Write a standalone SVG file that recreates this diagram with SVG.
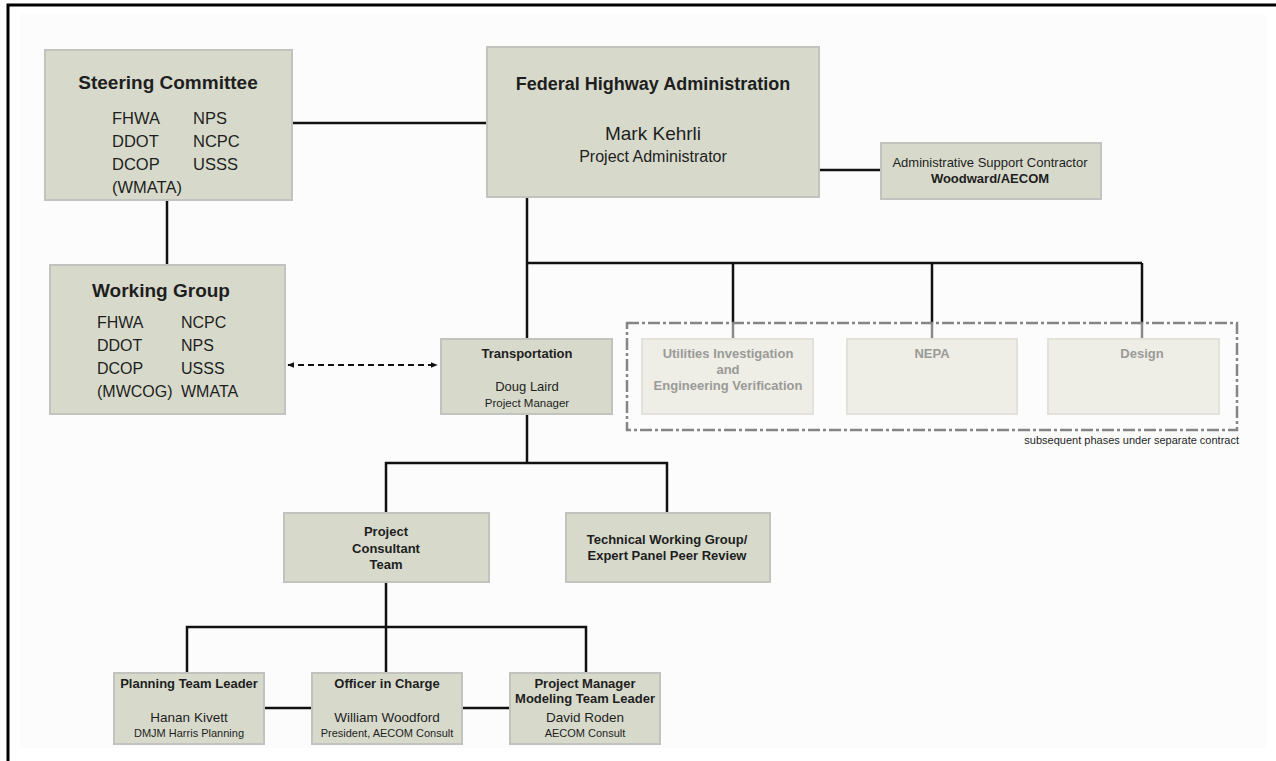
<svg xmlns="http://www.w3.org/2000/svg" width="1276" height="761" viewBox="0 0 1276 761">
<style>
text{font-family:"Liberation Sans",Arial,sans-serif;fill:#1e1e1e}
.box{fill:#d7dacb;stroke:#c2c2bf;stroke-width:2}
.fbox{fill:#eeeee7;stroke:#e2e2dc;stroke-width:2}
.b{font-weight:bold}
.c{text-anchor:middle}
.f{fill:#9a9a96;font-weight:bold;font-size:13px;text-anchor:middle}
.ln{stroke:#111;stroke-width:2.5;fill:none}
</style>
<defs>
<marker id="ah" viewBox="0 0 10 10" refX="9" refY="5" markerWidth="7" markerHeight="7" orient="auto-start-reverse" markerUnits="userSpaceOnUse">
<path d="M0,1 L10,5 L0,9 Z" fill="#111"/>
</marker>
</defs>
<rect x="0" y="0" width="1276" height="761" fill="#ffffff"/>
<rect x="20" y="14" width="1246" height="734" fill="#fcfcfc"/>
<path d="M8,4 V761 M6.5,5 H1276" stroke="#000" stroke-width="3" fill="none"/>

<g id="connectors">
<path class="ln" d="M292,123 H488"/>
<path class="ln" d="M819,170 H882"/>
<path class="ln" d="M167,200 V265" stroke-width="1.5"/>
<path class="ln" d="M527,197 V339 M527,263 H1142 M733,263 V323 M932,263 V323 M1142,263 V323"/>
<path d="M733,323 V339 M932,323 V339 M1142,323 V339" stroke="#8a8a8a" stroke-width="2.5" fill="none"/>
<path d="M288,365 H437" stroke="#111" stroke-width="2.2" stroke-dasharray="6,4" fill="none" marker-start="url(#ah)" marker-end="url(#ah)"/>
<path class="ln" d="M527,414 V463 M386,513 V463 H667 V513"/>
<path class="ln" d="M386,582 V673 M187,673 V627 H586 V673"/>
<path class="ln" d="M264,708 H312 M462,708 H510"/>
</g>

<g id="steering-committee">
<rect class="box" x="45" y="50" width="247" height="150"/>
<text class="b c" x="168" y="89" font-size="19">Steering Committee</text>
<g font-size="16.5">
<text x="112" y="124">FHWA</text><text x="193" y="124">NPS</text>
<text x="112" y="147">DDOT</text><text x="193" y="147">NCPC</text>
<text x="112" y="170">DCOP</text><text x="193" y="170">USSS</text>
<text x="112" y="193">(WMATA)</text>
</g>
</g>

<g id="fhwa">
<rect class="box" x="487" y="47" width="332" height="150"/>
<text class="b c" x="653" y="90" font-size="18">Federal Highway Administration</text>
<text class="c" x="653" y="140" font-size="19">Mark Kehrli</text>
<text class="c" x="653" y="162" font-size="16">Project Administrator</text>
</g>

<g id="admin-support">
<rect class="box" x="881" y="143" width="220" height="56"/>
<text class="c" x="990" y="167" font-size="13">Administrative Support Contractor</text>
<text class="b c" x="990" y="183" font-size="13">Woodward/AECOM</text>
</g>

<g id="working-group">
<rect class="box" x="50" y="265" width="235" height="149"/>
<text class="b c" x="161" y="297" font-size="19">Working Group</text>
<g font-size="16">
<text x="97" y="328">FHWA</text><text x="181" y="328">NCPC</text>
<text x="97" y="351">DDOT</text><text x="181" y="351">NPS</text>
<text x="97" y="374">DCOP</text><text x="181" y="374">USSS</text>
<text x="97" y="397">(MWCOG)</text><text x="181" y="397">WMATA</text>
</g>
</g>

<g id="transportation">
<rect class="box" x="441" y="339" width="171" height="75"/>
<text class="b c" x="527" y="358" font-size="13">Transportation</text>
<text class="c" x="527" y="391" font-size="13">Doug Laird</text>
<text class="c" x="527" y="407" font-size="11.5">Project Manager</text>
</g>

<g id="subsequent-phases">
<rect x="627" y="323" width="610" height="107" fill="none" stroke="#858585" stroke-width="2.5" stroke-dasharray="12,3,3,3"/>
<text x="1239" y="444" font-size="11" text-anchor="end">subsequent phases under separate contract</text>
</g>

<g id="utilities">
<rect class="fbox" x="642" y="339" width="171" height="75"/>
<text class="f" x="728" y="358">Utilities Investigation</text>
<text class="f" x="728" y="374">and</text>
<text class="f" x="728" y="390">Engineering Verification</text>
</g>

<g id="nepa">
<rect class="fbox" x="847" y="339" width="170" height="75"/>
<text class="f" x="932" y="358">NEPA</text>
</g>

<g id="design">
<rect class="fbox" x="1048" y="339" width="171" height="75"/>
<text class="f" x="1142" y="358">Design</text>
</g>

<g id="project-consultant-team">
<rect class="box" x="284" y="513" width="205" height="69"/>
<text class="b c" x="386" y="536" font-size="13">Project</text>
<text class="b c" x="386" y="553" font-size="13">Consultant</text>
<text class="b c" x="386" y="569" font-size="13">Team</text>
</g>

<g id="technical-working-group">
<rect class="box" x="566" y="513" width="204" height="69"/>
<text class="b c" x="667" y="544" font-size="13">Technical Working Group/</text>
<text class="b c" x="667" y="560" font-size="13">Expert Panel Peer Review</text>
</g>

<g id="planning-team-leader">
<rect class="box" x="114" y="673" width="150" height="71"/>
<text class="b c" x="189" y="688" font-size="13">Planning Team Leader</text>
<text class="c" x="189" y="722" font-size="13.5">Hanan Kivett</text>
<text class="c" x="189" y="737" font-size="11">DMJM Harris Planning</text>
</g>

<g id="officer-in-charge">
<rect class="box" x="312" y="673" width="150" height="71"/>
<text class="b c" x="387" y="688" font-size="13">Officer in Charge</text>
<text class="c" x="387" y="722" font-size="13.5">William Woodford</text>
<text class="c" x="387" y="737" font-size="11">President, AECOM Consult</text>
</g>

<g id="project-manager">
<rect class="box" x="510" y="673" width="150" height="71"/>
<text class="b c" x="585" y="688" font-size="13">Project Manager</text>
<text class="b c" x="585" y="703" font-size="13">Modeling Team Leader</text>
<text class="c" x="585" y="722" font-size="13.5">David Roden</text>
<text class="c" x="585" y="737" font-size="11">AECOM Consult</text>
</g>
</svg>
